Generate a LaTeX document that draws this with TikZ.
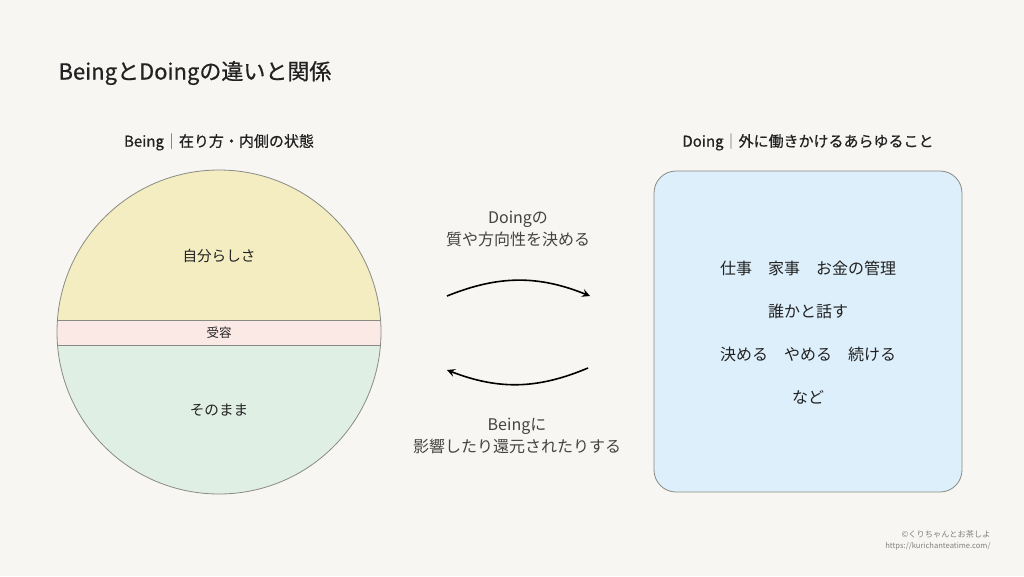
\documentclass[tikz,border=0pt]{standalone}
\usepackage{fontspec}
\setmainfont{Noto Sans CJK JP}
\newfontfamily\medfont[FakeBold=0.6]{Noto Sans CJK JP}
\usetikzlibrary{positioning}
\usetikzlibrary{arrows.meta}
\definecolor{bg}{HTML}{F7F6F2}
\definecolor{ink}{HTML}{222222}
\definecolor{beingtop}{HTML}{F3EDC1}
\definecolor{beingmid}{HTML}{FBE9E5}
\definecolor{beinglow}{HTML}{E0EFE4}
\definecolor{doingfill}{HTML}{DDEFFA}
\definecolor{edgegray}{HTML}{8A8A84}
\tikzset{
    label text/.style={font=\fontsize{16}{22}\selectfont, text=ink!85, align=center},
    head text/.style={font=\fontsize{15}{18}\selectfont\medfont, text=ink},
    item text/.style={font=\fontsize{16}{18}\selectfont, text=ink},
    flow arrow/.style={draw=black, line width=1.6pt, -{Stealth[length=8pt,width=8pt,inset=3pt]}}}

\begin{document}
\begin{tikzpicture}[x=1pt, y=-1pt]
        % Canvas
        \fill[bg] (0,0) rectangle (1024,576);
        \useasboundingbox (0,0) rectangle (1024,576);

        % Title
        \node[anchor=west, font=\fontsize{22}{26}\selectfont\medfont, text=ink] (title) at (55,73) {BeingとDoingの違いと関係};

        % Headings
        \node[head text] (beinghead) at (219,142) {Being{\color{edgegray}｜}在り方・内側の状態};
        \node[head text] (doinghead) at (808,142) {Doing{\color{edgegray}｜}外に働きかけるあらゆること};

        % Being circle
        \coordinate (c) at (219,332);
        \begin{scope}
            \clip (c) circle[radius=162];
            \fill[beingtop] (50,160) rectangle (390,320);
            \fill[beingmid] (50,320) rectangle (390,345);
            \fill[beinglow] (50,345) rectangle (390,500);
            \draw[edgegray, line width=0.8pt] (50,320) -- (390,320);
            \draw[edgegray, line width=0.8pt] (50,345) -- (390,345);
        \end{scope}
        \draw[edgegray, line width=0.8pt] (c) circle[radius=162];
        \node[item text, font=\fontsize{14.6}{17}\selectfont] (self) at (219,256) {自分らしさ};
        \node[item text, font=\fontsize{12.5}{14}\selectfont] (accept) at (219,333) {受容};
        \node[item text, font=\fontsize{14.6}{17}\selectfont] (asis) at (219,410) {そのまま};

        % Doing box
        \draw[fill=doingfill, draw=edgegray, line width=0.8pt, rounded corners=22pt] (654,171) rectangle (962,492);
        \node[item text] (work) at (808,268) {仕事　家事　お金の管理};
        \node[item text] (talk) at (808,311) {誰かと話す};
        \node[item text] (decide) at (808,354) {決める　やめる　続ける};
        \node[item text] (etc) at (808,397) {など};

        % Arrows between
        \coordinate (topfrom) at (447,296);
        \coordinate (topto) at (590,296);
        \coordinate (lowfrom) at (588,368);
        \coordinate (lowto) at (447,370);
        \draw[flow arrow] (topfrom) to[bend left=22] (topto);
        \draw[flow arrow] (lowfrom) to[bend left=22] (lowto);
        \node[label text] (doingnote) at (518,229) {Doingの\\質や方向性を決める};
        \node[label text] (beingnote) at (517,436) {Beingに\\影響したり還元されたりする};

        % Credit
        \node[anchor=east, font=\fontsize{8.2}{10}\selectfont, text=gray] (credit) at (994,534) {©くりちゃんとお茶しよ};
        \node[anchor=east, font=\fontsize{7.6}{10}\selectfont, text=gray] (url) at (994,546) {https://kurichanteatime.com/};
\end{tikzpicture}
\end{document}
